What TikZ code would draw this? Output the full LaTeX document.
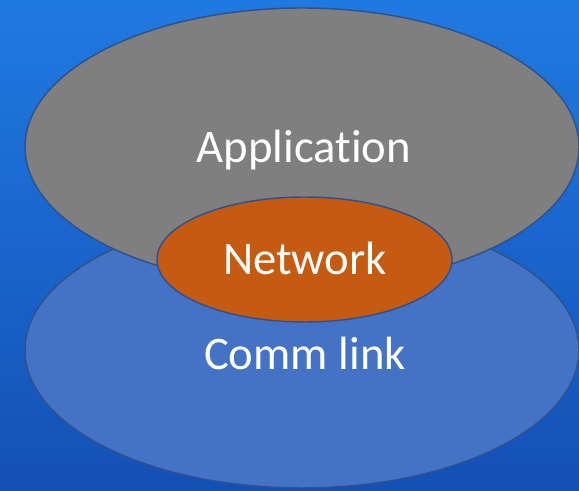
\documentclass[tikz,border=0pt]{standalone}
\usepackage{fontspec}
\setmainfont[Ligatures=NoCommon]{Carlito}
\usetikzlibrary{shapes.geometric}
\definecolor{bgtop}{RGB}{31,122,224}
\definecolor{bgbot}{RGB}{20,80,182}
\definecolor{appgray}{RGB}{127,127,127}
\definecolor{linkblue}{RGB}{68,114,196}
\definecolor{netorange}{RGB}{197,90,17}
\definecolor{rimblue}{RGB}{47,82,143}
\tikzset{
  layer/.style={ellipse, draw=rimblue, line width=1.1pt, inner sep=0pt},
  layertext/.style={text=white, font=\fontsize{35}{40}\selectfont, anchor=base}
}

\begin{document}
\begin{tikzpicture}[x=0.75pt, y=-0.75pt]
	% background
	\useasboundingbox (0,0) rectangle (579,491);
	\shade[top color=bgtop, bottom color=bgbot] (0,0) rectangle (579,491);
	% the three layers
	\node[layer, fill=linkblue, minimum width=554*0.75pt, minimum height=276*0.75pt] (link) at (302,350) {};
	\node[layer, fill=appgray, minimum width=554*0.75pt, minimum height=278*0.75pt] (app) at (302,147) {};
	\node[layer, fill=netorange, minimum width=295*0.75pt, minimum height=125*0.75pt] (net) at (304.5,259.5) {};
	% labels
	\node[layertext] (applbl) at (304,163) {Application};
	\node[layertext] (netlbl) at (305,275) {Network};
	\node[layertext] (linklbl) at (305,369.5) {Comm link};
\end{tikzpicture}
\end{document}
